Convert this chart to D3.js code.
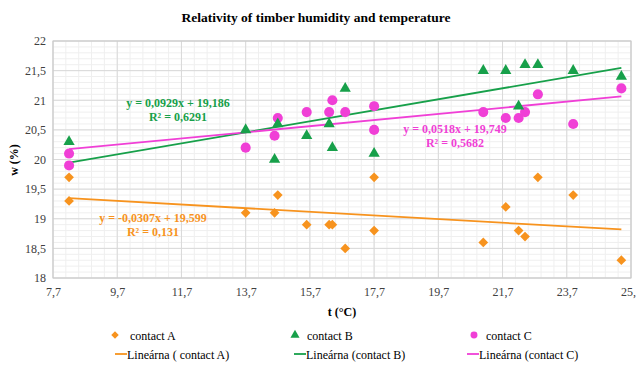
<!DOCTYPE html>
<html><head><meta charset="utf-8">
<script src="https://cdn.jsdelivr.net/npm/d3@7"></script>
<style>body{margin:0;background:#fff}svg{display:block}text{font-family:"Liberation Serif","Times New Roman",serif}</style>
</head><body><svg id="c" width="636" height="368"></svg>
<script>
const title = "Relativity of timber humidity and temperature";
const xTicks = [7.7, 9.7, 11.7, 13.7, 15.7, 17.7, 19.7, 21.7, 23.7, 25.7];
const yTicks = [18, 18.5, 19, 19.5, 20, 20.5, 21, 21.5, 22];
const seriesNames = ["contact A", "contact B", "contact C"];
const trendNames = ["Lineárna ( contact A)", "Lineárna (contact B)", "Lineárna (contact C)"];
const colors = ["#F7931E", "#17A04A", "#F03FD6"];

const tA = [8.2, 8.2, 13.7, 14.6, 14.7, 15.6, 16.3, 16.4, 16.8, 17.7, 17.7, 21.1, 21.8, 22.2, 22.4, 22.8, 23.9, 25.4];
const wA = [19.7, 19.3, 19.1, 19.1, 19.4, 18.9, 18.9, 18.9, 18.5, 19.7, 18.8, 18.6, 19.2, 18.8, 18.7, 19.7, 19.4, 18.3];
const tB = [8.2, 13.7, 14.6, 14.7, 15.6, 16.3, 16.4, 16.8, 17.7, 21.1, 21.8, 22.2, 22.4, 22.8, 23.9, 25.4];
const wB = [20.3, 20.5, 20.0, 20.6, 20.4, 20.6, 20.2, 21.2, 20.1, 21.5, 21.5, 20.9, 21.6, 21.6, 21.5, 21.4];
const tC = [8.2, 8.2, 13.7, 14.6, 14.7, 15.6, 16.3, 16.4, 16.8, 17.7, 17.7, 21.1, 21.8, 22.2, 22.4, 22.8, 23.9, 25.4];
const wC = [20.1, 19.9, 20.2, 20.4, 20.7, 20.8, 20.8, 21.0, 20.8, 20.9, 20.5, 20.8, 20.7, 20.7, 20.8, 21.1, 20.6, 21.2];

const slopes = [-0.0307, 0.0929, 0.0518];
const intercepts = [19.599, 19.186, 19.749];
const eqTexts = ["y = -0,0307x + 19,599", "y = 0,0929x + 19,186", "y = 0,0518x + 19,749"];
const r2Texts = ["R² = 0,131", "R² = 0,6291", "R² = 0,5682"];

const svg = d3.select("#c");
const L = 53, R = 631, T = 41, B = 278;
const x = d3.scaleLinear().domain([7.7, 25.7]).range([L, R]);
const y = d3.scaleLinear().domain([18, 22]).range([B, T]);
const fmt = v => String(v).replace(".", ",");

// minor grid
const g = svg.append("g");
g.selectAll("line.mx").data(d3.range(0, 46).map(i => 7.7 + i * 0.4)).join("line")
  .attr("x1", d => x(d)).attr("x2", d => x(d)).attr("y1", T).attr("y2", B)
  .attr("stroke", "#efefef").attr("stroke-width", 1);
g.selectAll("line.my").data(d3.range(0, 41).map(i => 18 + i * 0.1)).join("line")
  .attr("y1", d => y(d)).attr("y2", d => y(d)).attr("x1", L).attr("x2", R)
  .attr("stroke", "#efefef").attr("stroke-width", 1);
// major grid
g.selectAll("line.Mx").data(xTicks).join("line")
  .attr("x1", d => x(d)).attr("x2", d => x(d)).attr("y1", T).attr("y2", B)
  .attr("stroke", "#d9d9d9").attr("stroke-width", 1);
g.selectAll("line.My").data(yTicks).join("line")
  .attr("y1", d => y(d)).attr("y2", d => y(d)).attr("x1", L).attr("x2", R)
  .attr("stroke", "#d9d9d9").attr("stroke-width", 1);
svg.append("rect").attr("x", L).attr("y", T).attr("width", R - L).attr("height", B - T)
  .attr("fill", "none").attr("stroke", "#c8c8c8");

// axes
const xa = svg.append("g").attr("transform", `translate(0,${B})`)
  .call(d3.axisBottom(x).tickValues(xTicks).tickFormat(fmt).tickSize(0).tickPadding(9));
xa.select(".domain").remove();
xa.selectAll("text").attr("font-size", 12).attr("fill", "#404040").style("font-family", '"Liberation Serif",serif');
const ya = svg.append("g").attr("transform", `translate(${L},0)`)
  .call(d3.axisLeft(y).tickValues(yTicks).tickFormat(fmt).tickSize(0).tickPadding(7));
ya.select(".domain").remove();
ya.selectAll("text").attr("font-size", 12).attr("fill", "#404040").style("font-family", '"Liberation Serif",serif');

svg.append("text").attr("x", 316).attr("y", 22).attr("text-anchor", "middle")
  .attr("font-size", 13.5).attr("font-weight", "bold").attr("fill", "#000").text(title);
svg.append("text").attr("x", 342).attr("y", 316).attr("text-anchor", "middle")
  .attr("font-size", 12).attr("font-weight", "bold").attr("fill", "#000").text("t (°C)");
svg.append("text").attr("transform", "translate(18,160) rotate(-90)").attr("text-anchor", "middle")
  .attr("font-size", 12).attr("font-weight", "bold").attr("fill", "#000").text("w (%)");

// trendlines
const ts = [tA, tB, tC], ws = [wA, wB, wC];
ts.forEach((t, i) => {
  const [a, b] = d3.extent(t);
  svg.append("line").attr("x1", x(a)).attr("x2", x(b))
    .attr("y1", y(slopes[i] * a + intercepts[i])).attr("y2", y(slopes[i] * b + intercepts[i]))
    .attr("stroke", colors[i]).attr("stroke-width", 1.8);
});

const sym = [d3.symbolDiamond2, d3.symbolTriangle, d3.symbolCircle];
const sizes = [60, 55, 80];
const draw = (i) => {
  svg.append("g").selectAll("path").data(ts[i].map((t, k) => [t, ws[i][k]])).join("path")
    .attr("transform", d => `translate(${x(d[0])},${y(d[1])})`)
    .attr("d", d3.symbol(sym[i], sizes[i])).attr("fill", colors[i]);
};
draw(0); draw(2); draw(1);

// equations
const eqPos = [[153, 222], [178, 107], [455, 133]];
eqPos.forEach((p, i) => {
  const tx = svg.append("text").attr("x", p[0]).attr("y", p[1]).attr("text-anchor", "middle")
    .attr("font-size", 12).attr("font-weight", "bold").attr("fill", colors[i]);
  tx.append("tspan").attr("x", p[0]).text(eqTexts[i]);
  tx.append("tspan").attr("x", p[0]).attr("dy", 14).text(r2Texts[i]);
});

// legend
const legX = [115, 295, 474];
seriesNames.forEach((n, i) => {
  svg.append("path").attr("transform", `translate(${legX[i]},335)`)
    .attr("d", d3.symbol(sym[i], i === 2 ? 38 : 36)).attr("fill", colors[i]);
  svg.append("text").attr("x", legX[i] + (i === 0 ? 15 : 12)).attr("y", 339.5)
    .attr("font-size", 12).attr("fill", "#000").text(n);
});
const legLX = [115, 294, 467];
trendNames.forEach((n, i) => {
  svg.append("line").attr("x1", legLX[i]).attr("x2", legLX[i] + 12).attr("y1", 354).attr("y2", 354)
    .attr("stroke", colors[i]).attr("stroke-width", 1.8);
  svg.append("text").attr("x", legLX[i] + 12).attr("y", 358.5)
    .attr("font-size", 12).attr("fill", "#000").text(n);
});
</script></body></html>
